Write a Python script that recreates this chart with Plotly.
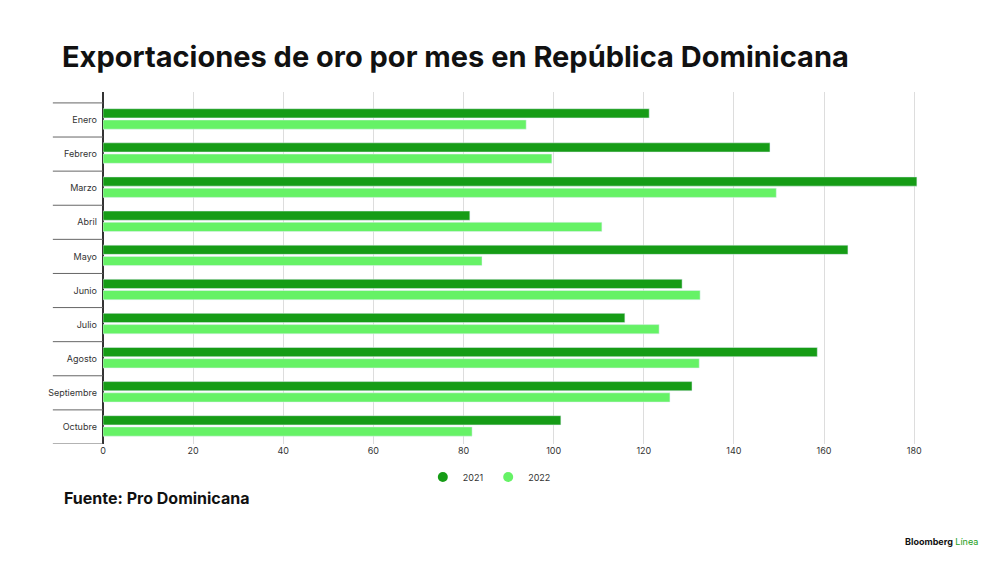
import plotly.graph_objects as go

months = ["Enero", "Febrero", "Marzo", "Abril", "Mayo", "Junio",
          "Julio", "Agosto", "Septiembre", "Octubre"]
v2021 = [121.2, 148.0, 180.6, 81.4, 165.3, 128.5, 115.8, 158.5, 130.7, 101.6]
v2022 = [93.9, 99.6, 149.4, 110.7, 84.1, 132.5, 123.4, 132.3, 125.8, 81.9]
c2021, c2022 = "#169c16", "#66f266"

fig = go.Figure()
fig.add_trace(go.Bar(y=months, x=v2021, name="2021", orientation="h",
                     marker_color=c2021, width=0.27, offset=-0.33, showlegend=False))
fig.add_trace(go.Bar(y=months, x=v2022, name="2022", orientation="h",
                     marker_color=c2022, width=0.27, offset=0.0, showlegend=False))
# round legend markers
for name, c in [("2021", c2021), ("2022", c2022)]:
    fig.add_trace(go.Scatter(x=[None], y=[None], mode="markers", name=name,
                             marker=dict(color=c, size=10, symbol="circle")))

# separators between categories in the left margin
for i in range(len(months) + 1):
    fig.add_shape(type="line", xref="paper", yref="y", x0=-0.061, x1=0,
                  y0=i - 0.5, y1=i - 0.5, line=dict(color="#666", width=1))

fig.update_layout(
    width=1000, height=562,
    paper_bgcolor="white", plot_bgcolor="white",
    font=dict(family="Inter, Roboto, sans-serif", color="#333", size=9),
    title=dict(text="<b>Exportaciones de oro por mes en República Dominicana</b>",
               x=0.054, xref="container", xanchor="left", y=0.913, yanchor="middle",
               font=dict(size=29, color="#111")),
    margin=dict(l=95, r=83, t=84, b=126, autoexpand=False),
    barmode="overlay",
    showlegend=True,
    legend=dict(orientation="h", x=0.47, xanchor="center", y=-0.094, yanchor="middle",
                font=dict(size=9), itemwidth=30),
    xaxis=dict(range=[0, 182.4], tick0=0, dtick=20, showgrid=True,
               gridcolor="#ddd", zeroline=True, zerolinecolor="#333",
               showline=False, ticks="", automargin=False),
    yaxis=dict(showgrid=False, ticks="", range=[9.5, -0.82], showline=False,
               ticksuffix="  ", automargin=False),
    annotations=[
        dict(text="<b>Fuente: Pro Dominicana</b>", xref="paper", yref="paper",
             x=-0.05, y=-0.153, xanchor="left", yanchor="middle", showarrow=False,
             font=dict(size=16, color="#111")),
        dict(text="<b>Bloomberg</b> <span style='color:#1a9e1a'>Línea</span>",
             xref="paper", yref="paper", x=1.067, y=-0.278, xanchor="right",
             yanchor="middle", showarrow=False, font=dict(size=9, color="#111")),
    ],
)

fig.write_html("out.html")
